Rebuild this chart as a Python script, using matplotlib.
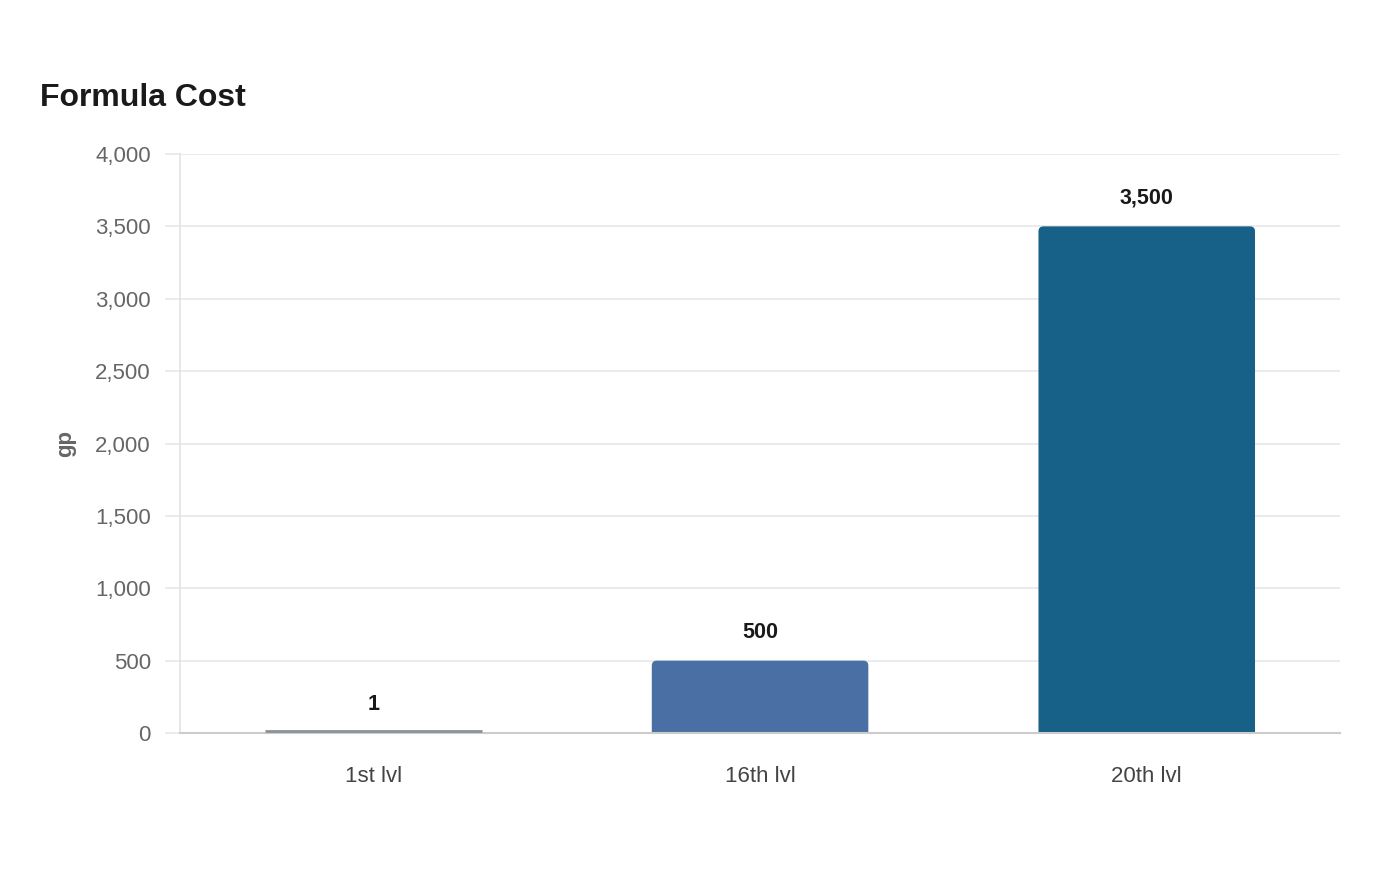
import matplotlib
matplotlib.use("Agg")
from matplotlib import pyplot as plt
from matplotlib.patches import FancyBboxPatch
from matplotlib.ticker import FuncFormatter

# dati
livelli = ["1st lvl", "16th lvl", "20th lvl"]
costi = [1, 500, 3500]
colori = ["#8c9099", "#4a6fa5", "#176087"]

plt.rcParams['font.family'] = ['Liberation Sans', 'DejaVu Sans']

fig = plt.figure(figsize=(14, 8.8), dpi=100)
ax = fig.add_axes([0.1286, 0.167, 0.8286, 0.658])

ax.set_xlim(-0.5, 2.5)
ax.set_ylim(0, 4000)
ax.set_yticks(range(0, 4001, 500))
ax.yaxis.set_major_formatter(FuncFormatter(lambda v, p: f"{int(v):,}"))

# griglia
ax.grid(axis='y', color='#e8e8e8', linewidth=1.2)
ax.set_axisbelow(True)
for s in ['top', 'right']:
    ax.spines[s].set_visible(False)
ax.spines['left'].set_color('#e3e3e3')
ax.spines['left'].set_linewidth(1.2)
ax.spines['bottom'].set_color('#cccccc')
ax.spines['bottom'].set_linewidth(1.5)

ax.tick_params(axis='y', length=11, color='#e8e8e8', width=1.2, pad=10,
               labelsize=16, labelcolor='#666666')
ax.tick_params(axis='x', length=0, pad=24, labelsize=16, labelcolor='#444444')

ax.set_xticks(range(len(livelli)))
ax.set_xticklabels(livelli)

# barre con angoli arrotondati
larghezza = 0.56
bars = ax.bar(range(len(livelli)), costi, width=larghezza, color=colori)
x_px = 3 / 1160
y_px = 4000 / 579
raggio = 5 * x_px
for b, c in zip(bars, colori):
    b.set_visible(False)
    x0 = b.get_x()
    h = b.get_height()
    if h < 50:
        ax.plot([x0, x0 + larghezza], [h + 1.5 * y_px, h + 1.5 * y_px], color=c,
                linewidth=2, solid_capstyle='butt', clip_on=False, zorder=5)
        continue
    patch = FancyBboxPatch((x0, -20 * y_px), larghezza, h + 20 * y_px,
                           boxstyle=f"round,pad=0,rounding_size={raggio}",
                           mutation_aspect=y_px / x_px,
                           facecolor=c, edgecolor='none')
    ax.add_patch(patch)

for i, v in enumerate(costi):
    ax.annotate(f"{v:,}", (i, v), xytext=(0, 28), textcoords='offset pixels',
                ha='center', va='center', fontsize=15.5, fontweight='bold', color='#1a1a1a')

ax.set_ylabel('gp', fontsize=16, fontweight='bold', color='#666666', labelpad=14)
fig.text(40 / 1400, 1 - 98 / 880, 'Formula Cost', fontsize=23, fontweight='bold',
         color='#1a1a1a', ha='left', va='center')

fig.savefig('out.png', dpi=100)
